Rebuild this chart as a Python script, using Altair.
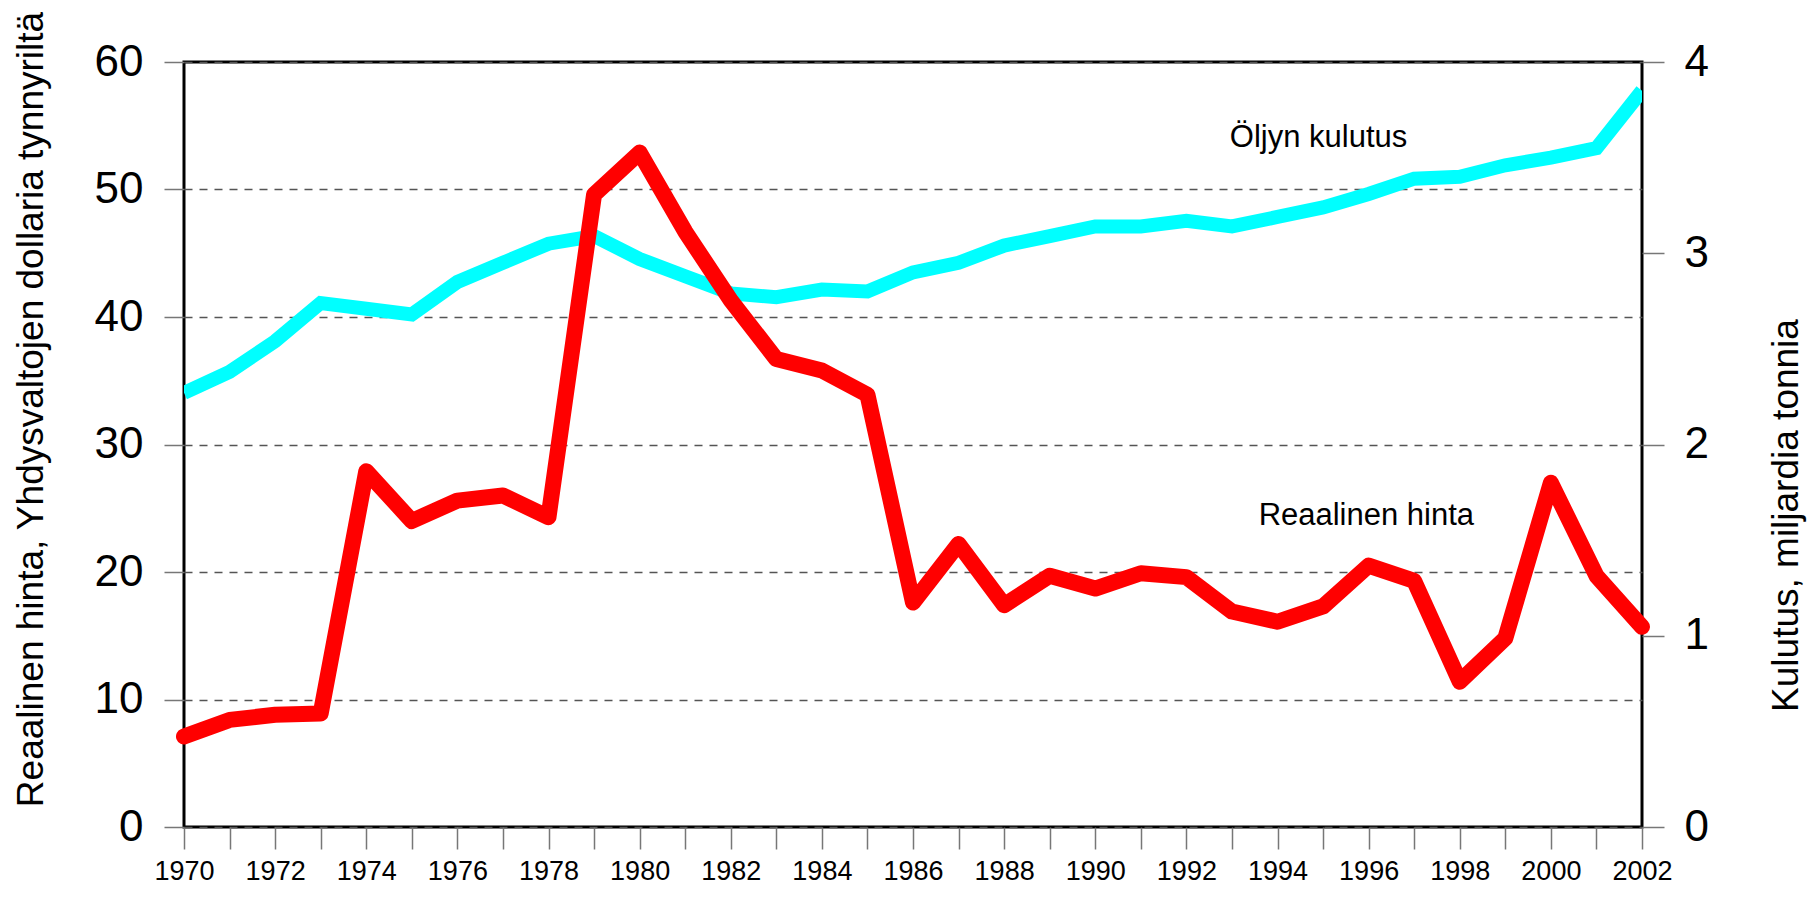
import altair as alt
import pandas as pd

years = list(range(1970, 2003))
price = [7.1, 8.4, 8.8, 8.9, 27.9, 24.0, 25.6, 26.0, 24.3, 49.6,
         52.9, 46.7, 41.3, 36.7, 35.8, 33.9, 17.6, 22.2, 17.4, 19.7,
         18.7, 19.9, 19.6, 16.9, 16.1, 17.3, 20.5, 19.3, 11.4, 14.8,
         27.0, 19.7, 15.7]
consumption = [2.27, 2.38, 2.54, 2.74, 2.71, 2.68, 2.85, 2.95, 3.05, 3.09,
               2.97, 2.88, 2.79, 2.77, 2.81, 2.80, 2.90, 2.95, 3.04, 3.09,
               3.14, 3.14, 3.17, 3.14, 3.19, 3.24, 3.31, 3.39, 3.40, 3.46,
               3.50, 3.55, 3.85]
left_ticks = [0, 10, 20, 30, 40, 50, 60]
right_ticks = [0, 1, 2, 3, 4]
label_text = ["Öljyn kulutus", "Reaalinen hinta"]
label_year = [1994.9, 1995.95]
label_value = [53.3, 23.7]

FONT = "Liberation Sans, Arial, Helvetica, sans-serif"

df = pd.DataFrame({"year": years, "price": price, "consumption": consumption})
lab = pd.DataFrame({"year": label_year, "value": label_value, "text": label_text})

x_scale = alt.Scale(domain=[1970, 2002], nice=False, zero=False)
x_axis = alt.Axis(
    values=years, format="d",
    labelExpr="datum.value % 2 == 0 ? datum.label : ''",
    title=None, grid=False, domain=False,
    tickSize=22, tickColor="#777777", tickWidth=1.5,
    labelFont=FONT, labelFontSize=27, labelPadding=9, labelColor="black",
    labelOverlap=False, labelFlush=False,
)
x_enc = alt.X("year:Q", scale=x_scale, axis=x_axis)

cyan = alt.Chart(df).mark_line(
    color="#00FFFF", strokeWidth=14, clip=True, strokeJoin="miter", strokeCap="butt"
).encode(
    x=x_enc,
    y=alt.Y(
        "consumption:Q",
        scale=alt.Scale(domain=[0, 4], nice=False),
        axis=alt.Axis(
            orient="right", values=right_ticks, grid=False, domain=False,
            tickSize=22, tickColor="#777777", tickWidth=1.5,
            labelFont=FONT, labelFontSize=44, labelPadding=20, labelColor="black",
            labelFlush=False,
            title="Kulutus, miljardia tonnia", titleFont=FONT, titleFontSize=37,
            titleFontWeight="normal", titleColor="black",
            titleAngle=270, titleX=144, titleY=453,
            titleAlign="center", titleBaseline="middle",
        ),
    ),
)

red = alt.Chart(df).mark_line(
    color="#FF0000", strokeWidth=16, strokeCap="round", strokeJoin="round"
).encode(
    x=x_enc,
    y=alt.Y(
        "price:Q",
        scale=alt.Scale(domain=[0, 60], nice=False),
        axis=alt.Axis(
            orient="left", values=left_ticks, grid=True,
            gridDash=[8, 7], gridColor="#555555", gridWidth=1.3,
            domain=False,
            tickSize=20, tickColor="#777777", tickWidth=1.5,
            labelFont=FONT, labelFontSize=44, labelPadding=21, labelColor="black",
            labelFlush=False,
            title="Reaalinen hinta, Yhdysvaltojen dollaria tynnyriltä",
            titleFont=FONT, titleFontSize=37, titleFontWeight="normal", titleColor="black",
            titleAngle=270, titleX=-153, titleY=347,
            titleAlign="center", titleBaseline="middle",
        ),
    ),
)

text = alt.Chart(lab).mark_text(
    font=FONT, fontSize=31, color="black", align="center", baseline="alphabetic"
).encode(
    x=x_enc,
    y=alt.Y("value:Q", scale=alt.Scale(domain=[0, 60], nice=False), axis=None),
    text="text:N",
)

chart = alt.layer(cyan, red, text).resolve_scale(y="independent").properties(
    width=1458, height=765,
    padding={"left": 3, "top": 3, "right": 5, "bottom": 0},
).configure_view(stroke="black", strokeWidth=3)

chart.save("out.html", embed_options={"renderer": "svg", "actions": False})
